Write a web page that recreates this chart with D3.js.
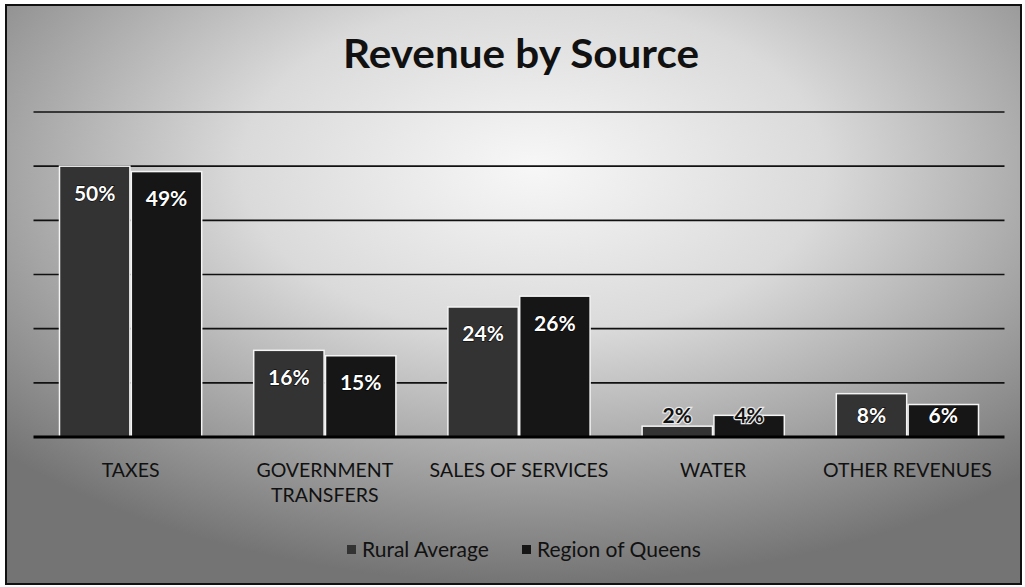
<!DOCTYPE html>
<html><head><meta charset="utf-8">
<script src="https://cdn.jsdelivr.net/npm/d3@7"></script>
<style>html,body{margin:0;padding:0;background:#fff;}svg{display:block;}</style>
</head><body>
<svg id="chart" width="1025" height="587"></svg>
<script>
const categories = ["TAXES", "GOVERNMENT TRANSFERS", "SALES OF SERVICES", "WATER", "OTHER REVENUES"];
const categoryLines = [["TAXES"], ["GOVERNMENT", "TRANSFERS"], ["SALES OF SERVICES"], ["WATER"], ["OTHER REVENUES"]];
const seriesNames = ["Rural Average", "Region of Queens"];
const ruralAverage = [50, 16, 24, 2, 8];
const regionOfQueens = [49, 15, 26, 4, 6];
const yTicks = [0, 10, 20, 30, 40, 50, 60];
const title = "Revenue by Source";

const W = 1025, H = 587;
const svg = d3.select("#chart");
const font = "Lato, 'Open Sans', sans-serif";
const colors = ["#333333", "#161616"];

const defs = svg.append("defs");
const rg = defs.append("radialGradient").attr("id", "bg")
  .attr("cx", "52%").attr("cy", "28%").attr("r", "72%");
rg.append("stop").attr("offset", "0%").attr("stop-color", "#f7f7f7");
rg.append("stop").attr("offset", "40%").attr("stop-color", "#dadada");
rg.append("stop").attr("offset", "100%").attr("stop-color", "#747474");

svg.append("rect").attr("x", 6).attr("y", 5).attr("width", W - 10).attr("height", H - 8)
  .attr("fill", "url(#bg)").attr("stroke", "#111").attr("stroke-width", 2);

const m = {left: 33.5, right: 1004.5, top: 112, bottom: 437};
const x0 = d3.scaleBand().domain(categories).range([m.left, m.right]).paddingInner(0).paddingOuter(0);
const innerPad = 0.253;
const x1 = d3.scaleBand().domain(seriesNames)
  .range([x0.bandwidth() * innerPad / 2, x0.bandwidth() * (1 - innerPad / 2)]).padding(0.02);
const y = d3.scaleLinear().domain([0, 60]).range([m.bottom, m.top]);

// gridlines
svg.append("g").selectAll("line").data(yTicks.filter(d => d > 0)).join("line")
  .attr("x1", m.left).attr("x2", m.right)
  .attr("y1", d => y(d)).attr("y2", d => y(d))
  .attr("stroke", "#111").attr("stroke-width", 1.6);

const data = categories.map((c, i) => ({cat: c, vals: [ruralAverage[i], regionOfQueens[i]]}));

const groups = svg.append("g").selectAll("g").data(data).join("g")
  .attr("transform", d => `translate(${x0(d.cat)},0)`);

groups.selectAll("rect").data(d => d.vals.map((v, j) => ({v, s: seriesNames[j], j}))).join("rect")
  .attr("x", d => x1(d.s)).attr("width", x1.bandwidth())
  .attr("y", d => y(d.v)).attr("height", d => y(0) - y(d.v))
  .attr("fill", d => colors[d.j]).attr("stroke", "#f4f4f4").attr("stroke-width", 1.5);

groups.selectAll("text.lbl").data(d => d.vals.map((v, j) => ({v, s: seriesNames[j], j}))).join("text")
  .attr("class", "lbl")
  .attr("x", d => x1(d.s) + x1.bandwidth() / 2)
  .attr("y", d => Math.min(y(d.v) + 27, y(0) - 21))
  .attr("dy", "0.35em")
  .attr("text-anchor", "middle")
  .attr("font-family", font).attr("font-weight", "bold").attr("font-size", 21)
  .attr("fill", d => d.v < 5 ? "#111" : "#fff")
  .attr("stroke", d => d.v < 5 ? "#e8e8e8" : "#000").attr("stroke-width", d => d.v < 5 ? 2.5 : 1)
  .attr("paint-order", "stroke")
  .text(d => d.v + "%");

// baseline
svg.append("line").attr("x1", m.left).attr("x2", m.right)
  .attr("y1", y(0)).attr("y2", y(0)).attr("stroke", "#000").attr("stroke-width", 3);

// category labels
const catText = svg.append("g").selectAll("text").data(categories).join("text")
  .attr("x", d => x0(d) + x0.bandwidth() / 2)
  .attr("y", 477)
  .attr("text-anchor", "middle")
  .attr("font-family", font).attr("font-size", 19.5).attr("fill", "#111");
catText.each(function(d, i) {
  const t = d3.select(this);
  categoryLines[i].forEach((ln, k) => {
    t.append("tspan").attr("x", x0(d) + x0.bandwidth() / 2).attr("dy", k === 0 ? 0 : 25).text(ln);
  });
});

// title
svg.append("text").attr("x", 521).attr("y", 68).attr("text-anchor", "middle")
  .attr("font-family", font).attr("font-weight", "bold").attr("font-size", 40)
  .attr("textLength", 356).attr("lengthAdjust", "spacingAndGlyphs")
  .attr("fill", "#111").text(title);

// legend
const legendItems = [{name: seriesNames[0], x: 347, c: colors[0]}, {name: seriesNames[1], x: 522, c: colors[1]}];
const lg = svg.append("g").selectAll("g").data(legendItems).join("g")
  .attr("transform", d => `translate(${d.x},550)`);
lg.append("rect").attr("x", 0).attr("y", -5).attr("width", 9).attr("height", 9).attr("fill", d => d.c);
lg.append("text").attr("x", 15).attr("y", 0).attr("dy", "0.35em")
  .attr("font-family", font).attr("font-size", 21).attr("fill", "#111").text(d => d.name);
</script>
</body></html>
